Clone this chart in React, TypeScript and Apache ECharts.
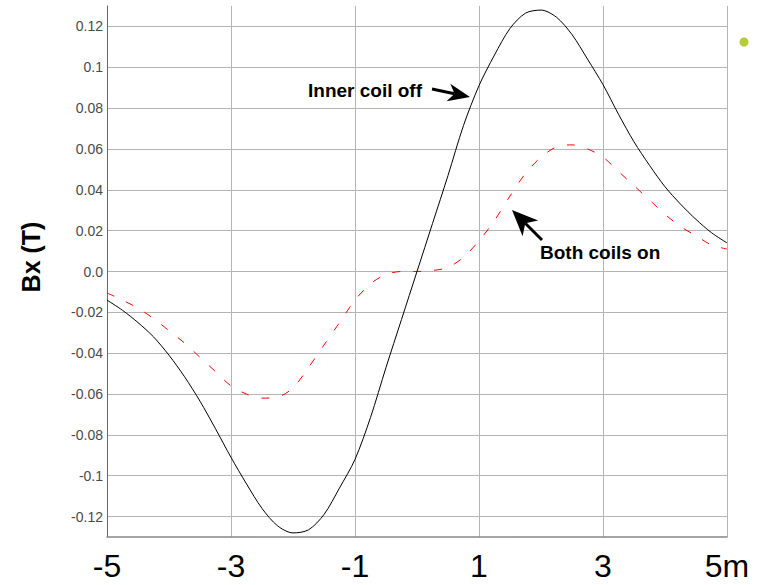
import React, { useEffect, useRef } from 'react';
import * as echarts from 'echarts';

// Position along the axis (m)
const xPositions = [
  -5, -4.75, -4.5, -4.25, -4, -3.75, -3.5, -3.25, -3, -2.75, -2.5, -2.25, -2, -1.75, -1.5, -1.25, -1, -0.75, -0.5, -0.25,
  0, 0.25, 0.5, 0.75, 1, 1.25, 1.5, 1.75, 2, 2.25, 2.5, 2.75, 3, 3.25, 3.5, 3.75, 4, 4.25, 4.5, 4.75, 5,
];

// Bx (T), inner coil off (black solid)
const innerCoilOff = [
  -0.014, -0.019, -0.025, -0.032, -0.041, -0.0515, -0.0635, -0.077, -0.091, -0.104, -0.116, -0.1245, -0.128, -0.1265,
  -0.119, -0.106, -0.092, -0.0715, -0.047, -0.0235,
  0.0, 0.0235, 0.047, 0.0715, 0.091, 0.106, 0.119, 0.1265, 0.128, 0.1245, 0.116, 0.104, 0.0915, 0.077, 0.0635, 0.052,
  0.0415, 0.033, 0.0255, 0.019, 0.014,
];

// Bx (T), both coils on (red dashed)
const bothCoilsOn = [
  -0.0105, -0.014, -0.018, -0.023, -0.029, -0.035, -0.042, -0.049, -0.056, -0.06, -0.062, -0.0615, -0.057, -0.047, -0.036,
  -0.025, -0.014, -0.006, -0.0015, 0.0,
  0.0, 0.0005, 0.002, 0.007, 0.015, 0.025, 0.037, 0.048, 0.056, 0.061, 0.062, 0.06, 0.056, 0.049, 0.042, 0.035, 0.028,
  0.022, 0.0175, 0.013, 0.011,
];

const xTickValues = [-5, -3, -1, 1, 3, 5];
const xTickLabels = ['-5', '-3', '-1', '1', '3', '5m'];

const yTickValues = [-0.12, -0.1, -0.08, -0.06, -0.04, -0.02, 0, 0.02, 0.04, 0.06, 0.08, 0.1, 0.12];
const yTickLabels = ['-0.12', '-0.1', '-0.08', '-0.06', '-0.04', '-0.02', '0.0', '0.02', '0.04', '0.06', '0.08', '0.1', '0.12'];

const FONT = '"Liberation Sans", Arial, Helvetica, sans-serif';

function arrow(x1: number, y1: number, x2: number, y2: number, headLen: number, headHalf: number, shaftW: number) {
  const len = Math.hypot(x2 - x1, y2 - y1);
  const dx = (x2 - x1) / len;
  const dy = (y2 - y1) / len;
  const nx = -dy;
  const ny = dx;
  const bx = x2 - dx * headLen;
  const by = y2 - dy * headLen;
  const notchX = x2 - dx * headLen * 0.72;
  const notchY = y2 - dy * headLen * 0.72;
  return [
    {
      type: 'line',
      shape: { x1, y1, x2: notchX, y2: notchY },
      style: { stroke: '#000', lineWidth: shaftW },
      z: 100,
    },
    {
      type: 'polygon',
      shape: {
        points: [
          [x2, y2],
          [bx + nx * headHalf, by + ny * headHalf],
          [notchX, notchY],
          [bx - nx * headHalf, by - ny * headHalf],
        ],
      },
      style: { fill: '#000' },
      z: 100,
    },
  ];
}

export default function App() {
  const ref = useRef<HTMLDivElement>(null);

  useEffect(() => {
    if (!ref.current) return;
    const chart = echarts.init(ref.current, null, { renderer: 'svg' });

    const option: any = {
      animation: false,
      backgroundColor: '#ffffff',
      grid: { left: 107, right: 44, top: 6, bottom: 48, containLabel: false },
      xAxis: {
        type: 'value',
        min: -5,
        max: 5,
        interval: 2,
        axisLine: { show: true, onZero: false, lineStyle: { color: '#888', width: 1.5 } },
        axisTick: { show: false },
        axisLabel: {
          margin: 13,
          fontSize: 32,
          fontFamily: FONT,
          color: '#000',
          showMinLabel: true,
          showMaxLabel: true,
          formatter: (v: number) => {
            const i = xTickValues.findIndex((t) => Math.abs(t - v) < 1e-6);
            return i >= 0 ? xTickLabels[i] : '';
          },
        },
        splitLine: { show: true, lineStyle: { color: '#b4b4b4', width: 1 } },
      },
      yAxis: {
        type: 'value',
        min: -0.13,
        max: 0.13,
        interval: 0.01,
        axisLine: { show: true, onZero: false, lineStyle: { color: '#666', width: 1 } },
        axisTick: { show: false },
        axisLabel: {
          margin: 4,
          fontSize: 14,
          fontFamily: FONT,
          color: '#4a4a4a',
          showMinLabel: true,
          showMaxLabel: true,
          formatter: (v: number) => {
            const i = yTickValues.findIndex((t) => Math.abs(t - v) < 1e-6);
            return i >= 0 ? yTickLabels[i] : '';
          },
        },
        splitLine: { show: true, lineStyle: { color: ['rgba(0,0,0,0)', '#b4b4b4'], width: 1 } },
      },
      series: [
        {
          name: 'Inner coil off',
          type: 'line',
          data: xPositions.map((x, i) => [x, innerCoilOff[i]]),
          showSymbol: false,
          smooth: 0.3,
          lineStyle: { color: '#000', width: 1 },
          z: 3,
        },
        {
          name: 'Both coils on',
          type: 'line',
          data: xPositions.map((x, i) => [x, bothCoilsOn[i]]),
          showSymbol: false,
          smooth: 0.3,
          lineStyle: { color: '#ff0000', width: 1, type: [8, 13] },
          z: 2,
        },
      ],
      graphic: [
        {
          type: 'text',
          x: 31,
          y: 257,
          rotation: Math.PI / 2,
          style: {
            text: 'Bx (T)',
            font: `bold 25px ${FONT}`,
            fill: '#000',
            align: 'center',
            verticalAlign: 'middle',
          },
        },
        {
          type: 'text',
          x: 308,
          y: 90,
          style: {
            text: 'Inner coil off',
            font: `bold 19px ${FONT}`,
            fill: '#000',
            align: 'left',
            verticalAlign: 'middle',
          },
          z: 100,
        },
        ...arrow(432, 89, 470, 97, 22, 9, 3),
        {
          type: 'text',
          x: 540,
          y: 252,
          style: {
            text: 'Both coils on',
            font: `bold 19px ${FONT}`,
            fill: '#000',
            align: 'left',
            verticalAlign: 'middle',
          },
          z: 100,
        },
        ...arrow(542, 240, 512, 210, 26, 11, 3),
        {
          type: 'circle',
          shape: { cx: 744, cy: 42, r: 4.5 },
          style: { fill: '#b5cb37' },
        },
      ],
    };

    chart.setOption(option);
    return () => chart.dispose();
  }, []);

  return (
    <div
      ref={ref}
      style={{ position: 'absolute', left: 0, top: 0, width: 771, height: 585 }}
    />
  );
}
